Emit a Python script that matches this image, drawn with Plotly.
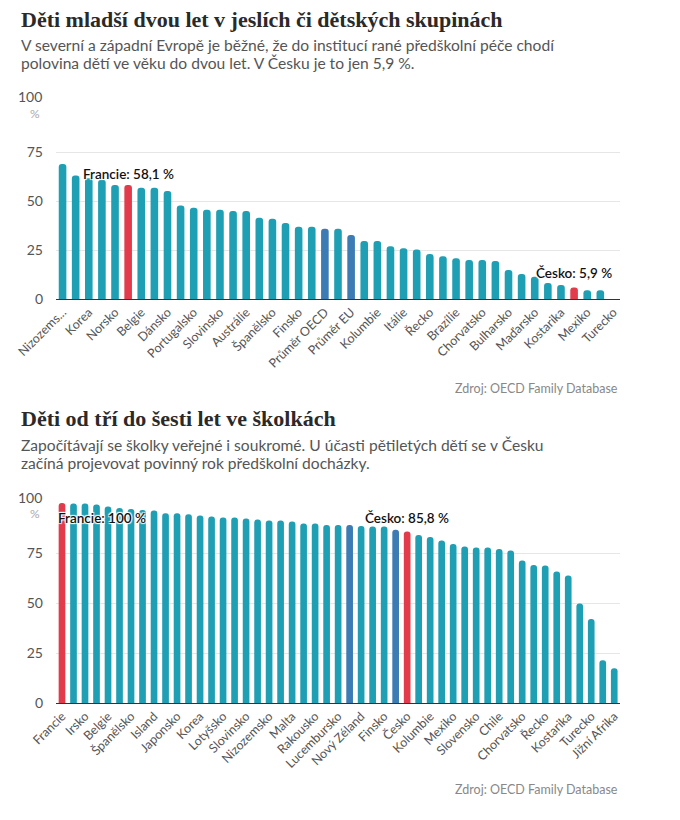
import plotly.graph_objects as go

# --- data: deti mladsi dvou let (jesle, detske skupiny) ---
top_names = [
    "Nizozemsko", "Island", "Korea", "Lucembursko", "Norsko", "Francie",
    "Belgie", "Švédsko", "Dánsko", "Izrael", "Portugalsko", "Nový Zéland",
    "Slovinsko", "Japonsko", "Austrálie", "Německo", "Španělsko", "Malta",
    "Finsko", "Estonsko", "Průměr OECD", "Rakousko", "Průměr EU", "Kanada",
    "Kolumbie", "Lotyšsko", "Itálie", "Chile", "Řecko", "Litva", "Brazílie",
    "Kypr", "Chorvatsko", "Rumunsko", "Bulharsko", "Polsko", "Maďarsko",
    "Slovensko", "Kostarika", "Česko", "Mexiko", "Argentina", "Turecko",
]
top_values = [
    68.9, 63.0, 61.6, 60.8, 58.2, 58.1, 56.8, 56.7, 55.1, 47.7, 46.5, 45.5,
    45.5, 44.9, 44.9, 41.5, 40.9, 38.8, 36.8, 36.8, 35.8, 35.8, 32.7, 29.6,
    29.6, 26.9, 25.9, 25.2, 23.0, 21.8, 20.8, 19.9, 19.9, 19.4, 14.8, 12.8,
    11.4, 8.2, 7.2, 5.9, 4.5, 4.5, 0.0,
]

# --- data: deti od tri do sesti let ve skolkach ---
bottom_names = [
    "Francie", "Izrael", "Irsko", "Norsko", "Belgie", "Dánsko", "Španělsko",
    "Německo", "Island", "Švédsko", "Japonsko", "Itálie", "Korea", "Estonsko",
    "Lotyšsko", "Portugalsko", "Slovinsko", "Maďarsko", "Nizozemsko", "Litva",
    "Malta", "Polsko", "Rakousko", "Velká Británie", "Lucembursko",
    "Průměr EU", "Nový Zéland", "Austrálie", "Finsko", "Průměr OECD", "Česko",
    "Bulharsko", "Kolumbie", "Rumunsko", "Mexiko", "Kypr", "Slovensko",
    "Spojené státy", "Chile", "Kanada", "Chorvatsko", "Švýcarsko", "Řecko",
    "Brazílie", "Kostarika", "Argentina", "Turecko", "Saúdská Arábie",
    "Jižní Afrika",
]
bottom_values = [
    100.0, 99.8, 99.8, 99.3, 98.2, 97.5, 97.0, 96.5, 96.2, 94.9, 94.9, 94.4,
    93.7, 93.2, 92.7, 92.7, 92.2, 91.7, 91.2, 91.2, 90.7, 89.7, 89.7, 89.0,
    89.0, 89.0, 88.5, 88.2, 88.2, 86.6, 85.8, 84.0, 83.0, 81.2, 79.5, 78.2,
    77.7, 77.7, 77.0, 76.2, 71.2, 69.0, 68.7, 65.7, 63.7, 49.7, 42.0, 21.4,
    17.4,
]

y_ticks = [0, 25, 50, 75, 100]
highlight = ["Francie", "Česko"]
averages = ["Průměr OECD", "Průměr EU"]

TEAL = "#1f9fb4"
BLUE = "#3c7bb3"
RED = "#e23b4b"
SANS = "Lato, 'Open Sans', sans-serif"
SERIF = "'Liberation Serif', 'DejaVu Serif', serif"
W, H = 680, 820
OFF = 8  # page body margin


def bar_colors(names):
    out = []
    for n in names:
        if n in highlight:
            out.append(RED)
        elif n in averages:
            out.append(BLUE)
        else:
            out.append(TEAL)
    return out


def px_x(p):
    return (p - OFF) / W


def px_y(p):
    return 1 - (p - OFF) / H


fig = go.Figure()

fig.add_trace(go.Bar(
    x=top_names, y=top_values, xaxis="x", yaxis="y",
    marker=dict(color=bar_colors(top_names), cornerradius=4, line_width=0),
    hovertemplate="%{x}: %{y:.1f} %<extra></extra>",
))
fig.add_trace(go.Bar(
    x=bottom_names, y=bottom_values, xaxis="x2", yaxis="y2",
    marker=dict(color=bar_colors(bottom_names), cornerradius=4, line_width=0),
    hovertemplate="%{x}: %{y:.1f} %<extra></extra>",
))

x_dom = [px_x(56), px_x(620)]


def xaxis_cfg(names, anchor, short=None):
    short = short or {}
    ticktext = [short.get(n, n) for n in names[::2]]
    return dict(
        domain=x_dom, anchor=anchor, type="category", automargin=False,
        tickvals=names[::2], ticktext=ticktext, tickangle=-45,
        tickfont=dict(family=SANS, size=12.5, color="#555"),
        showline=True, linecolor="#333", linewidth=1.2,
        showgrid=False, ticks="", fixedrange=True,
    )


def yaxis_cfg(dom, anchor):
    # the "100" label sits a little higher, it is drawn as an annotation
    return dict(
        domain=dom, anchor=anchor, range=[0, 100], automargin=False,
        tickvals=y_ticks,
        ticktext=["" if t == 100 else str(t) for t in y_ticks],
        tickfont=dict(family=SANS, size=14, color="#555"),
        ticklabelstandoff=12,
        showgrid=True, gridcolor="#e6e6e6", gridwidth=1,
        zeroline=False, showline=False, fixedrange=True,
    )


halo = ("1px 1px 1px white, -1px -1px 1px white, "
        "1px -1px 1px white, -1px 1px 1px white")
lab_font = dict(family=SANS, size=13.5, color="#111", weight=600,
                shadow=halo)
tick_font = dict(family=SANS, size=14, color="#555")
title_font = dict(family=SERIF, size=22, color="#2a2a2a")
sub_font = dict(family=SANS, size=15.6, color="#555")
src_font = dict(family=SANS, size=12.5, color="#888")


def left_text(text, y, font):
    return dict(text=text, x=px_x(19), y=px_y(y), xanchor="left",
                yanchor="middle", font=font)


annotations = [
    # titles and notes
    left_text("<b>Děti mladší dvou let v jeslích či dětských skupinách</b>",
              19, title_font),
    left_text("V severní a západní Evropě je běžné, že do institucí rané "
              "předškolní péče chodí", 45, sub_font),
    left_text("polovina dětí ve věku do dvou let. V Česku je to jen 5,9 %.",
              63, sub_font),
    dict(text="Zdroj: OECD Family Database",
         x=px_x(620), y=px_y(388), xanchor="right", yanchor="middle",
         font=src_font),
    left_text("<b>Děti od tří do šesti let ve školkách</b>", 418, title_font),
    left_text("Započítávají se školky veřejné i soukromé. U účasti pětiletých "
              "dětí se v Česku", 445, sub_font),
    left_text("začíná projevovat povinný rok předškolní docházky.", 463,
              sub_font),
    dict(text="Zdroj: OECD Family Database",
         x=px_x(620), y=px_y(789), xanchor="right", yanchor="middle",
         font=src_font),
    dict(text="100", x=px_x(44), y=px_y(97), xanchor="right",
         yanchor="middle", font=tick_font),
    dict(text="%", x=px_x(42), y=px_y(113), xanchor="right", yanchor="middle",
         font=dict(family=SANS, size=12, color="#aaa")),
    dict(text="100", x=px_x(44), y=px_y(497), xanchor="right",
         yanchor="middle", font=tick_font),
    dict(text="%", x=px_x(42), y=px_y(513), xanchor="right", yanchor="middle",
         font=dict(family=SANS, size=12, color="#aaa")),
]
for a in annotations:
    a.update(xref="paper", yref="paper", showarrow=False)

# data labels for highlighted bars
i = top_names.index("Francie")
annotations.append(dict(
    x=top_names[i], y=top_values[i], xref="x", yref="y", showarrow=False,
    text="Francie: 58,1 %", xanchor="center", yanchor="bottom", yshift=1,
    font=lab_font))
i = top_names.index("Česko")
annotations.append(dict(
    x=top_names[i], y=top_values[i], xref="x", yref="y", showarrow=False,
    text="Česko: 5,9 %", xanchor="center", yanchor="bottom", yshift=4,
    font=lab_font))
i = bottom_names.index("Francie")
annotations.append(dict(
    x=bottom_names[i], y=bottom_values[i], xref="x2", yref="y2",
    showarrow=False, text="Francie: 100 %", xanchor="left", yanchor="top",
    xshift=-6, yshift=-5, font=lab_font))
i = bottom_names.index("Česko")
annotations.append(dict(
    x=bottom_names[i], y=bottom_values[i], xref="x2", yref="y2",
    showarrow=False, text="Česko: 85,8 %", xanchor="center",
    yanchor="bottom", yshift=3, font=lab_font))

fig.update_layout(
    width=W, height=H,
    margin=dict(l=0, r=0, t=0, b=0, autoexpand=False),
    paper_bgcolor="white", plot_bgcolor="white",
    showlegend=False, bargap=0.42,
    xaxis=xaxis_cfg(top_names, "y", {"Nizozemsko": "Nizozems..."}),
    yaxis=yaxis_cfg([px_y(299), px_y(103)], "x"),
    xaxis2=xaxis_cfg(bottom_names, "y2"),
    yaxis2=yaxis_cfg([px_y(703), px_y(503)], "x2"),
    annotations=annotations,
    font=dict(family=SANS),
)

fig.write_html("out.html")
